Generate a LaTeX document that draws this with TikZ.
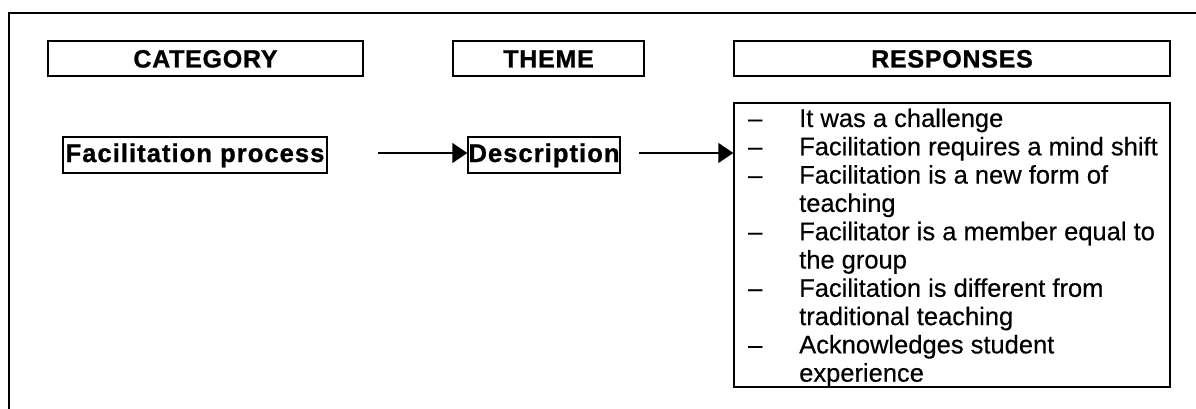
\documentclass[tikz,border=0pt]{standalone}
\usepackage{fontspec}
\setmainfont{Liberation Sans}
\newfontfamily\itemfont[FakeBold=0.4]{Liberation Sans}
\newfontfamily\hdrfont[LetterSpace=3,FakeBold=1]{Liberation Sans Bold}
\newfontfamily\midfont[LetterSpace=4,FakeBold=1]{Liberation Sans Bold}
\usetikzlibrary{arrows.meta}
\begin{document}
\begin{tikzpicture}[x=1pt,y=-1pt,
  hdr/.style={draw,line width=1.4pt,inner sep=0pt,minimum height=35pt,text height=18pt,text depth=0pt,font=\hdrfont\fontsize{25}{28}\selectfont},
  mid/.style={draw,line width=1.4pt,inner sep=0pt,minimum height=36pt,text height=14pt,text depth=0pt,font=\midfont\fontsize{25.6}{30}\selectfont},
  item/.style={anchor=base west,inner sep=0pt,font=\itemfont\fontsize{25.5}{28}\selectfont},
  arr/.style={line width=1.4pt,-{Triangle[length=15pt,width=20pt]}}]
\useasboundingbox (0,0) rectangle (1196,409);
\draw[line width=1.6pt] (9,409) -- (9,13) -- (1196,13);
\node[hdr,minimum width=315pt] (cat) at (205.5,58.5) {CATEGORY};
\node[hdr,minimum width=191pt] (theme) at (548.5,58.5) {THEME};
\node[hdr,minimum width=436pt] (resp) at (952,58.5) {RESPONSES};
\node[mid,minimum width=264pt] (fac) at (195,155) {Facilitation process};
\node[mid,minimum width=152pt] (desc) at (544,155) {Description};
\node[draw,line width=1.4pt,minimum width=436pt,minimum height=284pt,inner sep=0pt] (list) at (952,245) {};
\coordinate (s1) at (378,153);
\draw[arr] (s1) -- (s1 -| desc.west);
\coordinate (s2) at (639,153);
\draw[arr] (s2) -- (s2 -| list.west);
\foreach \k/\dsh/\txt in {0/1/It was a challenge,
  1/1/Facilitation requires a mind shift,
  2/1/Facilitation is a new form of,
  3/0/teaching,
  4/1/Facilitator is a member equal to,
  5/0/the group,
  6/1/Facilitation is different from,
  7/0/traditional teaching,
  8/1/Acknowledges student,
  9/0/experience} {
  \node[item] (t\k) at (799,{127+28.3*\k}) {\txt};
  \ifnum\dsh=1 \node[item] (d\k) at (748,{127+28.3*\k}) {–}; \fi
}
\end{tikzpicture}
\end{document}
